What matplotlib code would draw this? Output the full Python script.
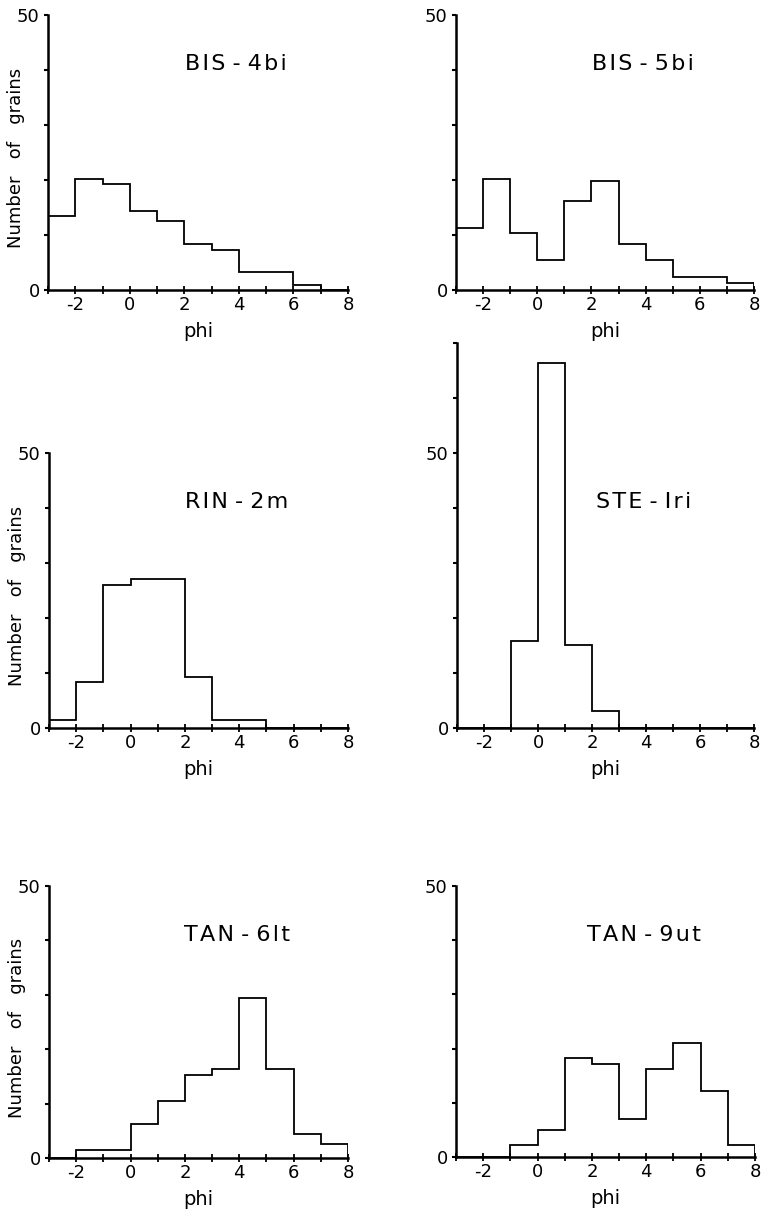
import numpy as np
import matplotlib
matplotlib.use('Agg')
import matplotlib.pyplot as plt

plt.rcParams['font.family'] = ['DejaVu Sans']

# phi class edges (-3 .. 8, one-phi classes)
edges = np.arange(-3, 9)

# number of grains per phi class
bis_4bi = [13.5, 20.2, 19.3, 14.4, 12.5, 8.4, 7.2, 3.3, 3.3, 1.0, 0]
bis_5bi = [11.2, 20.1, 10.3, 5.5, 16.2, 19.9, 8.3, 5.5, 2.4, 2.4, 1.2]
rin_2m = [1.5, 8.4, 26.0, 27.0, 27.0, 9.3, 1.4, 1.4, 0, 0, 0]
ste_1ri = [0, 0, 15.9, 66.3, 15.1, 3.1, 0, 0, 0, 0, 0]
tan_6lt = [0, 1.4, 1.4, 6.2, 10.4, 15.3, 16.4, 29.5, 16.4, 4.4, 2.5]
tan_9ut = [0, 0, 2.3, 5.0, 18.3, 17.2, 7.0, 16.3, 21.1, 12.1, 2.3]

titles = ['BIS-4bi', 'BIS-5bi', 'RIN-2m', 'STE-Iri', 'TAN-6lt', 'TAN-9ut']
series = [bis_4bi, bis_5bi, rin_2m, ste_1ri, tan_6lt, tan_9ut]
ymax = [50, 50, 50, 70, 50, 50]

W, H = 767, 1218
# axes boxes in pixels: left, right, y of zero line, y of top
boxes = [
    (48, 348, 290, 15),
    (456, 754, 290, 15),
    (49, 348, 728, 453),
    (457, 754, 728, 343),
    (49, 348, 1158, 886),
    (456, 755, 1157, 886),
]


def spaced(s):
    # the typed labels are letter-spaced; wider gaps around the dash
    head, tail = s.split('-')
    return '\u200a'.join(head) + ' - ' + '\u200a'.join(tail)


fig = plt.figure(figsize=(W / 100, H / 100), dpi=100)

for i, (vals, title, top, box) in enumerate(zip(series, titles, ymax, boxes)):
    x0, x1, yb, yt = box
    ax = fig.add_axes([x0 / W, (H - yb) / H, (x1 - x0) / W, (yb - yt) / H])
    ax.stairs(vals, edges, color='black', lw=1.3, baseline=0)
    ax.set_xlim(-3, 8)
    ax.set_ylim(0, top)
    for s in ['top', 'right']:
        ax.spines[s].set_visible(False)
    for s in ['left', 'bottom']:
        ax.spines[s].set_linewidth(1.8)

    ax.set_xticks(np.arange(-3, 9))
    ax.set_xticklabels(['' if v % 2 else str(v) for v in range(-3, 9)])
    ax.set_yticks(np.arange(0, top + 1, 10))
    ax.set_yticklabels([str(v) if v in (0, 50) else '' for v in range(0, top + 1, 10)])
    ax.tick_params(axis='x', direction='inout', length=6, width=1.3,
                   labelsize=13, pad=1)
    ax.tick_params(axis='y', direction='out', length=3, width=1.5,
                   labelsize=13, pad=3)

    ax.set_xlabel('phi', fontsize=14, labelpad=6)
    if i % 2 == 0:
        ax.set_ylabel('Number   of   grains', fontsize=13)
        ax.yaxis.set_label_coords(-0.077, 0.48)

    ax.text(3.9, 41, spaced(title), fontsize=16, ha='center', va='center')

fig.savefig('out.png', dpi=100)
